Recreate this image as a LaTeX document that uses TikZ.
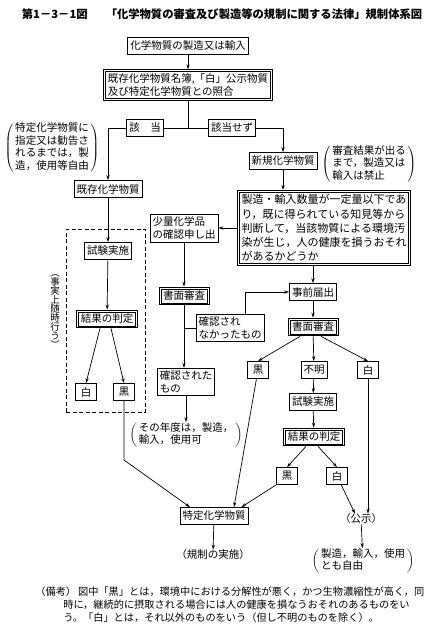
\documentclass[tikz,border=0pt]{standalone}
\usepackage{fontspec}
\usepackage{tikz}
\usetikzlibrary{arrows.meta,positioning,calc}
\setmainfont{Noto Sans CJK JP}
\newfontfamily\jp{Noto Sans CJK JP}
% inner line of the double frames
\newcommand{\innerframe}[1]{\draw[line width=0.5pt] ($(#1.north west)+(2.3,2.3)$) rectangle ($(#1.south east)+(-2.3,-2.3)$);}

\begin{document}
\begin{tikzpicture}[x=1pt,y=-1pt,
  box/.style={draw,line width=0.7pt,font={\jp\fontsize{10.5}{12.5}\selectfont},inner sep=2.5pt,align=left,minimum height=17pt},
  dbox/.style={box,line width=1pt,inner sep=4pt},
  tag/.style={box,minimum width=21pt,align=center},
  note/.style={font={\jp\fontsize{10.5}{12}\selectfont},inner sep=0pt},
  vtext/.style={font={\jp\fontsize{9.5}{9}\selectfont},inner sep=0pt,align=center},
  >={Stealth[length=5pt,width=3.2pt]}, line width=0.7pt]
  \useasboundingbox (0,0) rectangle (441,637);
  \node[font={\jp\bfseries\fontsize{11.3}{13}\selectfont}] (title) at (222,14) {第1－3－1図\hspace{1.6em}「化学物質の審査及び製造等の規制に関する法律」規制体系図};
  % top
  \node[box] (seizo) at (188,46) {化学物質の製造又は輸入};
  \node[dbox] (shogo) at (188,85) {既存化学物質名簿,「白」公示物質\\及び特定化学物質との照合};
  \node[box] (gaito) at (145,128) {該\hspace{1em}当};
  \node[box] (higaito) at (232,128) {該当せず};
  \coordinate (bunki) at (188,128);
  \node[note] (jiyuA) at (52,148) {$\left(\,\begin{tabular}{@{}l@{}}特定化学物質に\\指定又は勧告さ\\れるまでは，製\\造，使用等自由\end{tabular}\,\right)$};
  \node[box] (kizon) at (108,189) {既存化学物質};
  \node[box] (shinki) at (283,161) {新規化学物質};
  \node[note] (kinshi) at (369,164) {$\left(\,\begin{tabular}{@{}l@{}}審査結果が出る\\まで，製造又は\\輸入は禁止\end{tabular}\,\right)$};
  \node[dbox,font={\jp\fontsize{11}{14.3}\selectfont}] (handan) at (324,228) {製造・輸入数量が一定量以下であ\\り，既に得られている知見等から\\判断して，当該物質による環境汚\\染が生じ，人の健康を損うおそれ\\があるかどうか};
  % existing substances
  \node[draw,line width=0.6pt,dash pattern=on 4pt off 2.5pt,minimum width=79pt,minimum height=183pt,inner sep=0pt] (zuiji) at (105.5,320.5) {};
  \node[box] (shikenA) at (108,251) {試験実施};
  \node[dbox] (hanteiA) at (107,319) {結果の判定};
  \node[tag] (shiroA) at (86,392) {白};
  \node[tag] (kuroA) at (124,392) {黒};
  \node[vtext] (jijitsu) at (55,312) {︵\\事\\実\\上\\随\\時\\行\\う\\︶};
  \coordinate (kuroAbend) at (124,460);
  % small quantity
  \node[box,font={\jp\fontsize{10.5}{13}\selectfont}] (shoryo) at (184,228) {少量化学品\\の確認申し出};
  \node[dbox] (shomenA) at (184,296) {書面審査};
  \node[box,font={\jp\fontsize{10.5}{13}\selectfont}] (nakatta) at (230,328) {確認され\\なかったもの};
  \node[box,font={\jp\fontsize{10.5}{13}\selectfont}] (sareta) at (186,382) {確認された\\もの};
  \node[note] (nendo) at (186,435) {$\left(\,\begin{tabular}{@{}l@{}}その年度は，製造，\\輸入，使用可\end{tabular}\,\right)$};
  % new substances
  \node[box] (jizen) at (313,292) {事前届出};
  \node[dbox] (shomenB) at (313,327) {書面審査};
  \node[tag] (kuroB) at (258,370) {黒};
  \node[tag] (fumei) at (314,370) {不明};
  \node[tag] (shiroB) at (368,370) {白};
  \node[box] (shikenB) at (313,402) {試験実施};
  \node[dbox] (hanteiB) at (314,437) {結果の判定};
  \node[tag] (kuroC) at (287,476) {黒};
  \node[tag] (shiroC) at (337,476) {白};
  \node[box] (tokutei) at (214,516) {特定化学物質};
  \node[note] (koji) at (361,519) {（公示）};
  \node[note] (kisei) at (213,555) {（規制の実施）};
  \node[note] (jiyuB) at (363,561) {$\left(\,\begin{tabular}{@{}l@{}}製造，輸入，使用\\とも自由\end{tabular}\,\right)$};
  \innerframe{shogo}
  \innerframe{handan}
  \innerframe{hanteiA}
  \innerframe{shomenA}
  \innerframe{shomenB}
  \innerframe{hanteiB}
  % remark
  \node[font={\jp\fontsize{10.2}{13}\selectfont},anchor=north west,align=left,inner sep=0pt] (biko) at (35,586) {（備考）\hspace{2pt}図中「黒」とは，環境中における分解性が悪く，かつ生物濃縮性が高く，同\\\hspace*{28pt}時に，継続的に摂取される場合には人の健康を損なうおそれのあるものをい\\\hspace*{28pt}う。「白」とは，それ以外のものをいう（但し不明のものを除く）。};
  % connectors
  \draw[->] (seizo) -- (shogo);
  \draw (shogo) -- (bunki);
  \draw (gaito) -- (higaito);
  \draw[->] (gaito) -| (kizon);
  \draw[->] (higaito) -| (shinki);
  \draw[->] (shinki) -- (shinki |- handan.north);
  \draw[->] (kizon) -- (shikenA);
  \draw[->] (shikenA) -- (hanteiA);
  \draw[->] ([xshift=-7pt]hanteiA.south) -- (shiroA.north);
  \draw[->] ([xshift=4pt]hanteiA.south) -- (kuroA.north);
  \draw[->] (kuroA) -- (kuroAbend) -- ([xshift=-24pt]tokutei.north);
  \draw[->] (handan) -- (shoryo);
  \draw[->] (shoryo) -- (shomenA);
  \draw[->] (shomenA) -- (shomenA |- sareta.north);
  \draw (shomenA |- nakatta.west) -- (nakatta.west);
  \draw[->] ([xshift=15pt]nakatta.north) |- (jizen.west);
  \draw[->] (jizen |- handan.south) -- (jizen);
  \draw[->] (jizen) -- (shomenB);
  \draw[->] ([xshift=-13pt]shomenB.south) -- (kuroB.north);
  \draw[->] (shomenB) -- (fumei);
  \draw[->] ([xshift=8pt]shomenB.south) -- (shiroB.north);
  \draw[->] (kuroB) -- ([xshift=20pt]tokutei.north);
  \draw[->] (fumei) -- (shikenB);
  \draw[->] (shikenB) -- (hanteiB);
  \draw[->] ([xshift=-8pt]hanteiB.south) -- (kuroC.north);
  \draw[->] ([xshift=4pt]hanteiB.south) -- (shiroC.north);
  \draw[->] (kuroC.south west) -- ([xshift=-7pt]tokutei.north east);
  \draw[->] (shiroC) -- ([xshift=-6pt]koji.north);
  \draw[->] (shiroB) -- (shiroB |- koji.north);
  \draw[->] (koji) -- (jiyuB);
  \draw[->] (tokutei) -- (kisei);
  \draw[->] (sareta) -- (nendo);
\end{tikzpicture}
\end{document}
